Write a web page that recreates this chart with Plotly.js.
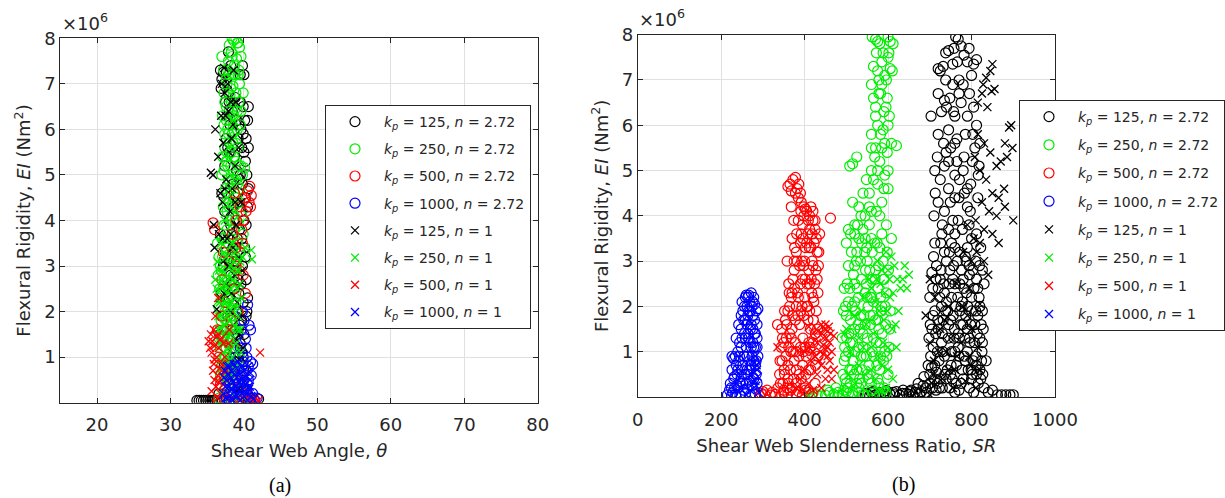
<!DOCTYPE html>
<html>
<head>
<meta charset="utf-8">
<script src="https://cdn.plot.ly/plotly-3.0.1.min.js"></script>
<style>
html,body{margin:0;padding:0;background:#fff;}
#chart{width:1225px;height:498px;}
</style>
</head>
<body>
<div id="chart"></div>
<script>
// ---------------- DATA (EI in units of 10^6 Nm^2) ----------------
const seriesNames = [
  "<i>k<sub>p</sub></i> = 125, <i>n</i> = 2.72",
  "<i>k<sub>p</sub></i> = 250, <i>n</i> = 2.72",
  "<i>k<sub>p</sub></i> = 500, <i>n</i> = 2.72",
  "<i>k<sub>p</sub></i> = 1000, <i>n</i> = 2.72",
  "<i>k<sub>p</sub></i> = 125, <i>n</i> = 1",
  "<i>k<sub>p</sub></i> = 250, <i>n</i> = 1",
  "<i>k<sub>p</sub></i> = 500, <i>n</i> = 1",
  "<i>k<sub>p</sub></i> = 1000, <i>n</i> = 1"
];
const seriesColors = ["#000000","#00ee00","#ff0000","#0000ff","#000000","#00ee00","#ff0000","#0000ff"];
const seriesSymbols = ["circle-open","circle-open","circle-open","circle-open","x-thin-open","x-thin-open","x-thin-open","x-thin-open"];

const xTicksA = [20,30,40,50,60,70,80];
const xTicksB = [0,200,400,600,800,1000];
const yTicks = [1,2,3,4,5,6,7,8];

// (a) Shear web angle theta vs EI
const thetaK125n272 = [[33.6,0.05],[33.9,0.05],[34.2,0.05],[34.5,0.05],[34.8,0.05],[35.1,0.05],[35.4,0.05],[35.7,0.05],[36.0,0.05],[36.3,0.05],
 [36.8,7.3],[37.0,7.1],[36.9,6.9],[37.2,7.25],[40.0,7.2],[39.8,7.4],[39.5,6.6],[39.9,6.5],[40.1,6.2],[40.5,6.2],
 [39.6,6.0],[39.2,5.8],[40.0,5.5],[40.2,5.3],[39.0,5.1],[38.5,4.8],[40.2,4.5],[39.6,4.2],[38.2,3.9],[40.0,4.0],
 [39.1,3.6],[37.5,3.3],[39.8,3.0],[40.3,2.7],[38.7,2.5],[36.9,2.4],[39.9,2.2],[37.8,1.9],[39.4,1.7],[36.7,1.5],
 [38.6,1.2],[39.9,1.0],[37.3,0.8],[38.9,0.5],[40.4,0.3],[36.6,0.2],[41.0,0.1],[42.0,0.08],
 [37.5,6.6],[38.1,6.1],[38.8,6.7],[38.0,5.5],[37.4,5.2],[39.4,4.9],[37.0,4.6],[38.6,4.3],[39.5,3.3],[38.2,2.8],
 [37.2,3.0],[36.8,3.7],[40.6,4.7],[40.3,3.9],
 [37.6,7.25],[38.2,7.4],[39.5,7.2],[37.9,6.8],[39.3,6.1],[40.3,5.8],[37.6,5.8],[39.8,4.8],[39.1,4.4],[38.0,4.0],
 [39.4,3.8],[37.4,4.2],[38.5,3.4],[39.6,2.6],[38.0,2.3],[39.0,2.0],[38.4,1.6],[39.5,1.3],[40.0,0.7],[38.1,0.4],
 [37.0,0.05],[38.0,0.05],[40.8,0.05],
 [37.9,7.7],[38.4,6.4],[39.7,5.6],[40.4,5.0],[40.6,6.5],[39.2,4.6],[40.1,3.4],[39.0,3.1],[40.5,2.3],[39.3,2.4],
 [40.0,1.5],[38.8,0.8],[39.7,0.4],[40.3,1.9],
 [37.3,7.0],[38.0,6.6],[39.0,6.2],[39.9,5.9],[37.8,5.6],[40.6,5.6],[39.5,5.0],[38.7,5.4],[40.5,4.3],[37.7,4.6],
 [39.7,3.6],[38.6,3.1],[40.2,3.2],[39.2,2.7],[40.4,2.0],[39.7,1.8]];
const thetaK250n272 = [[38.6,7.95],[38.9,8.0],[39.2,7.9],[39.4,7.8],[38.3,7.7],[37.9,7.5],[38.7,7.4],[39.3,7.3],[37.6,7.1],[38.2,6.9],
 [38.9,6.8],[37.4,6.6],[38.0,6.4],[38.6,6.3],[37.3,6.1],[37.9,5.9],[38.5,5.7],[39.2,5.6],[37.1,5.4],[37.8,5.2],
 [40.1,5.15],[39.8,5.0],[38.4,4.9],[37.5,4.7],[39.0,4.5],[38.0,4.3],[39.7,4.1],[37.3,3.9],[38.6,3.8],[39.9,3.7],
 [36.4,3.5],[37.6,3.4],[38.9,3.2],[36.8,3.0],[37.9,2.9],[36.5,2.8],[37.3,2.7],[38.4,2.5],[37.0,2.4],[37.8,2.3],
 [38.9,2.2],[37.4,2.0],[38.2,1.9],[36.9,1.8],[37.7,1.6],[38.5,1.5],[37.2,1.4],[38.0,1.3],[38.8,1.1],[37.5,1.0],
 [38.3,0.9],[37.9,0.7],[38.6,0.5],[37.4,0.3],[39.0,0.15],[38.2,0.05],[36.6,0.1],
 [37.2,7.3],[38.0,7.85],[38.4,7.6],[39.0,7.55],[37.7,7.0],[38.5,6.95],[39.4,7.0],[37.6,6.5],[38.3,6.6],[39.1,6.4],
 [37.1,6.3],[37.8,6.0],[38.7,5.95],[39.5,6.1],[37.4,5.6],[38.2,5.5],[38.9,5.3],[39.6,5.2],[37.0,5.0],[37.9,4.9],
 [38.7,4.6],[39.4,4.7],[37.2,4.3],[38.3,4.1],[39.2,3.95],[37.0,3.6],[37.9,3.5],[39.4,3.3],[36.6,3.2],[37.5,2.9],
 [38.6,2.8],[36.7,2.5],[37.6,2.5],[38.7,1.9],[36.6,2.1],[37.1,1.6],[38.1,1.6],[36.8,1.2],[37.6,1.2],[38.4,1.2],
 [37.1,0.7],[38.6,0.2],[37.6,0.05],[39.6,0.05],
 [36.9,2.9],[37.4,2.2],[38.0,2.6],[38.5,2.2],[37.2,1.9],[37.8,1.4],[38.4,1.7],[38.9,1.6],[37.0,1.4],[37.3,1.0],
 [38.0,0.9],[37.7,0.5],[38.2,0.6],[36.8,0.6],[37.3,3.6],[38.2,3.6],[38.8,4.0],[37.7,4.2],[39.1,4.8],[38.2,5.2],
 [37.6,5.3],[38.9,5.7],[38.1,6.2],[39.3,6.6],[38.0,7.2],[38.8,7.2],[39.6,7.6],[39.1,7.9],[38.4,8.0],[39.9,6.8],
 [37.0,7.6],[37.8,7.3],[38.5,7.2],[39.2,7.2],[37.3,6.8],[38.1,6.75],[38.8,6.45],[39.6,6.4],[37.6,6.2],[38.4,5.9],
 [39.1,6.0],[37.4,5.9],[38.0,5.7],[38.6,5.4],[39.3,5.2],[37.3,5.1],[38.1,4.7],[38.9,4.9],[37.6,4.4],[38.5,4.4],
 [39.4,4.4],[37.7,3.8],[38.4,3.3],[39.1,3.5],[37.1,3.2],[38.2,3.2]];
const thetaK500n272 = [[40.5,4.65],[40.8,4.75],[41.0,4.55],[40.7,4.4],[40.3,4.2],[35.8,3.95],[36.0,3.8],[39.5,4.3],[39.0,4.0],[38.4,3.7],
 [39.8,3.5],[37.2,3.3],[38.0,3.1],[39.4,2.9],[37.0,2.7],[38.6,2.5],[40.2,2.4],[37.5,2.2],[39.2,2.0],[36.4,1.6],
 [37.8,1.4],[38.8,1.2],[36.6,1.0],[37.9,0.8],[39.5,0.6],[36.8,0.4],[38.2,0.2],[40.0,0.1],[36.5,0.05],[38.9,3.4],[39.7,3.8],
 [40.1,4.5],[40.9,4.3],[38.7,4.6],[39.9,4.0],[38.9,3.0],[39.9,2.8],[36.9,1.9],[38.3,1.8],[39.6,1.6],[37.3,0.6],
 [38.6,0.5],[40.3,0.2],[41.4,0.05],[37.4,0.05]];
const thetaK1000n272 = [[40.5,2.15],[40.7,1.7],[40.9,1.6],[41.2,0.85],[39.8,2.0],[40.2,1.4],[39.5,1.2],[40.4,1.0],[39.0,0.9],[38.4,0.7],
 [39.7,0.6],[40.6,0.5],[38.1,0.4],[39.2,0.35],[40.0,0.3],[38.6,0.2],[39.5,0.15],[40.8,0.1],[38.0,0.05],[41.5,0.05],
 [41.8,0.1],[37.6,0.1],[39.9,0.45],[40.3,0.7],
 [39.2,1.5],[40.0,1.8],[39.8,1.1],[38.8,1.0],[40.9,0.9],[38.3,0.15],[39.0,0.55],[40.4,0.25],[41.2,0.2],[38.7,0.4],[41.0,0.6],[39.3,0.75],
 [39.6,1.6],[40.3,1.2],[39.3,1.0],[40.6,0.8],[38.8,0.7],[39.9,0.9]];
const thetaK125n1 = [[35.5,5.05],[35.8,5.0],[36.1,6.0],[35.9,3.9],[36.0,3.4],[36.3,2.05],[37.3,7.35],[37.8,7.0],[38.2,6.6],[37.5,6.3],
 [38.5,6.1],[37.2,5.7],[38.0,5.5],[38.8,5.2],[37.6,4.9],[38.4,4.7],[37.1,4.4],[38.1,4.2],[38.9,3.9],[37.7,3.6],
 [38.5,3.4],[39.3,3.2],[37.9,3.0],[38.7,2.8],[39.5,2.6],[38.3,2.4],[39.1,2.2],[39.8,1.9],[38.6,1.7],[39.4,1.5],
 [39.9,1.2],[36.8,4.6],[36.5,5.4],[36.9,6.3],
 [37.0,7.0],[38.6,7.3],[37.9,6.4],[38.9,6.6],[39.3,5.6],[39.6,4.4],[38.8,4.4],[36.6,3.7],[37.2,3.1],[39.8,2.9],
 [36.8,2.3],[37.6,2.6],[38.9,1.4],[39.6,1.0],[37.9,0.6],[39.3,0.3],
 [37.4,6.8],[38.3,5.8],[37.4,4.7],[38.2,3.7],[37.1,3.6],[37.3,2.4],[38.2,2.0],[39.0,1.0]];
const thetaK250n1 = [[41.0,3.35],[41.1,3.15],[36.1,2.7],[36.4,3.1],[37.0,2.9],[37.6,3.2],[38.2,3.0],[38.8,3.3],[39.5,3.1],[40.2,3.4],
 [37.3,2.6],[37.9,2.4],[38.5,2.7],[39.1,2.5],[39.7,2.3],[36.7,2.2],[37.4,2.0],[38.0,1.8],[38.6,2.1],[39.2,1.9],
 [36.9,1.6],[37.6,1.4],[38.3,1.5],[38.9,1.3],[39.6,1.1],[37.2,1.1],[37.9,0.9],[38.6,0.7],[37.4,0.5],[38.1,0.3],
 [39.0,0.1],[40.3,0.05],[37.7,4.5],[38.3,5.0],[37.9,5.6],[38.6,6.2],
 [36.9,3.5],[37.3,3.3],[38.5,3.5],[39.8,3.2],[36.3,2.5],[38.1,2.5],[39.4,2.6],[36.5,1.9],[37.7,1.9],[39.5,1.6],
 [36.4,1.3],[38.7,1.7],[37.9,1.2],[39.3,0.8],[36.7,0.9],[38.3,0.6],[39.6,0.4],[37.0,0.2],[37.4,4.0],[38.9,4.2],
 [38.0,4.7],[37.4,5.4],
 [37.0,2.5],[37.6,2.2],[38.3,2.2],[38.6,3.1],[39.0,2.9],[37.3,1.7],[37.9,1.6],[38.4,1.0],[37.5,0.8],[39.1,1.6],[36.6,2.9],
 [37.1,2.7],[37.8,2.7],[38.4,2.9],[39.3,2.9],[36.6,2.3],[37.2,2.2],[37.9,2.1],[38.5,1.9],[39.1,2.1],[36.8,1.9],
 [37.5,1.7],[38.2,1.3],[39.0,1.1],[37.0,1.3],[37.7,1.0],[38.4,0.8],[37.3,0.8],[36.5,1.6],[38.0,1.5]];
const thetaK500n1 = [[35.2,1.35],[35.5,1.5],[35.9,1.6],[36.3,1.45],[35.6,1.1],[36.0,0.95],[36.6,1.2],[35.8,0.7],[36.4,0.6],[37.0,0.85],
 [36.2,0.35],[36.8,0.2],[37.4,1.0],[37.9,1.3],[42.2,1.1],[41.5,0.1],[42.0,0.05],[36.1,1.9],[37.2,0.4],[38.0,1.6],[36.5,2.3],
 [35.4,1.2],[35.7,1.35],[36.0,1.25],[36.5,1.5],[36.8,1.4],[35.9,0.85],[36.3,1.0],[36.7,0.75],[37.2,1.3],[36.0,0.5],
 [36.6,0.45],[37.1,0.6],[35.6,0.25],[36.4,0.1],[37.6,0.7],[37.8,0.2],[38.5,0.1],[39.5,0.08],[40.5,0.1],[41.2,0.03]];
const thetaK1000n1 = [[37.2,0.2],[37.6,0.5],[38.0,0.8],[38.4,0.3],[38.8,0.6],[39.2,0.9],[39.6,0.4],[40.0,0.7],[40.4,0.2],[40.8,0.5],
 [37.4,0.7],[37.8,0.1],[38.2,0.55],[38.6,0.85],[39.0,0.15],[39.4,0.45],[39.8,0.1],[40.2,0.4],[40.6,0.8],[41.0,0.15],
 [38.5,0.05],[39.5,0.05],[37.9,0.35],[39.1,0.3],[40.5,0.05],
 [37.5,0.35],[38.3,0.7],[38.9,0.35],[39.3,0.6],[39.7,0.8],[40.1,0.25],[40.7,0.3],[37.7,0.8],[39.9,0.55],[38.1,0.15],[41.3,0.08],[40.9,0.65],
 [37.3,0.55],[37.9,0.6],[38.5,0.45],[39.0,0.75],[39.5,0.25],[40.3,0.6],[40.8,0.35],[38.2,0.3],[39.7,0.2],[40.0,0.45],[38.7,0.15],[37.5,0.1]];

// (b) Shear web slenderness ratio SR vs EI
const srK125n272 = [[545,0.05],[570,0.04],[595,0.06],[615,0.05],[635,0.08],[650,0.06],[665,0.1],[680,0.12],[690,0.2],[700,0.3],[560,0.1],[620,0.12],[655,0.15],
 [862,0.05],[872,0.05],[882,0.05],[892,0.05],[900,0.05],
 [762,7.95],[768,7.9],[775,7.75],[758,7.7],[745,7.65],[738,7.6],[732,7.3],[725,7.2],[720,7.25],[782,7.55],[790,7.4],[805,7.35],[812,7.45],[800,7.1],
 [770,7.0],[755,6.9],[748,6.6],[740,6.4],[735,6.55],[728,6.3],[703,6.2],[760,6.2],[775,6.5],[795,6.7],[812,6.0],[820,5.6],[808,5.5],[785,5.8],
 [765,5.7],[750,5.5],[733,5.6],[718,5.3],[712,5.0],[735,5.1],[760,4.9],[780,5.0],[798,4.7],[818,5.1],[815,4.4],[790,4.2],[770,4.4],[745,4.6],
 [720,4.3],[710,4.0],[730,3.8],[755,3.9],[778,3.7],[800,3.5],[822,3.3],[810,3.0],[785,3.1],[760,3.3],[735,3.2],[712,3.4],[705,2.75],[725,2.6],
 [748,2.8],[772,2.5],[795,2.7],[815,2.4],[820,2.0],[800,1.9],[778,2.1],[752,2.2],[728,2.0],[708,1.8],[698,1.3],[720,1.5],[745,1.6],[768,1.4],
 [790,1.5],[828,1.5],[825,1.0],[810,0.9],[785,0.8],[760,1.0],[735,0.9],[712,0.7],[700,0.5],[725,0.4],[750,0.5],[775,0.3],[800,0.4],[820,0.6],
 [830,0.2],[840,0.1],[850,0.15],[715,0.15],[760,0.1],[805,0.1],
 [548,0.08],[556,0.03],[564,0.12],[572,0.06],[580,0.1],[588,0.03],[596,0.14],[604,0.07],[612,0.1],[628,0.04],[636,0.15],[644,0.08],
 [652,0.12],[660,0.05],[668,0.18],[676,0.07],[684,0.25],[692,0.1],[672,0.3],[686,0.45],[696,0.7],
 [702,0.9],[708,1.1],[714,1.4],[718,0.3],[722,0.8],[728,1.2],[732,1.7],[736,0.5],[740,2.1],[744,1.3],[748,0.2],[752,1.0],[756,1.8],
 [760,2.5],[764,0.7],[768,1.1],[772,1.9],[776,2.8],[780,0.4],[784,1.3],[788,2.3],[792,0.6],[796,1.2],[800,2.2],[804,0.8],[808,1.6],
 [812,2.6],[816,0.3],[820,1.3],[824,0.8],[740,3.0],[760,3.6],[780,2.6],[720,2.4],[705,1.5],[730,0.2],[770,0.15],[795,0.2],[812,0.5],
 [700,2.2],[716,2.9],[752,3.4],[790,3.3],[735,4.1],[760,4.4],[790,4.6],[725,4.8],[765,5.2],[745,5.9],[790,6.2],[720,5.8],[770,6.7],
 [805,6.4],[755,7.35],[780,6.9],[830,2.5],[826,1.9],[835,0.8],
 [706,0.2],[712,1.9],[718,1.0],[724,2.2],[730,1.4],[738,1.9],[742,0.6],[746,2.5],[750,1.7],[754,0.4],[758,1.3],[762,2.0],[766,3.0],
 [770,0.9],[774,1.6],[778,0.6],[782,2.4],[786,1.8],[790,1.0],[794,2.9],[798,1.6],[802,0.5],[806,2.4],[810,1.9],[814,1.4],[818,2.2],
 [822,0.4],[826,1.2],[704,0.65],[716,0.55],[733,2.5],[757,2.9],[772,3.2],[794,3.8],[812,3.6],[726,3.4],[745,3.7],[768,3.9],[745,5.2],
 [802,5.2],[720,6.7],[760,5.6],[783,4.5],[738,7.0],[826,2.8],[816,4.9],
 [701,1.6],[707,2.4],[711,0.4],[715,2.6],[719,1.7],[723,0.2],[727,2.8],[731,1.0],[735,2.3],[739,0.4],[743,1.9],[747,3.2],[751,0.7],
 [755,2.6],[759,1.5],[763,0.3],[767,2.2],[771,1.3],[775,2.0],[779,1.6],[783,0.9],[787,3.0],[791,2.0],[795,1.3],[799,0.6],[803,2.8],
 [807,1.2],[811,0.7],[815,1.8],[819,2.9],[823,1.6],[827,0.5],[709,3.1],[729,3.6],[749,4.3],[771,4.8],[797,4.1],[739,5.4],[757,6.3],
 [782,5.3],[713,4.5],[803,5.8],[794,7.7],[766,7.4]];
const srK250n272 = [[412,0.03],[430,0.05],[450,0.04],[470,0.06],[490,0.05],[505,0.08],[540,0.06],[580,0.05],[595,0.1],
 [562,7.95],[570,7.9],[580,7.8],[605,7.85],[600,7.5],[572,7.6],[585,7.4],[565,7.3],[592,7.1],[578,7.0],[605,7.25],[560,6.9],[582,6.7],[598,6.6],
 [570,6.4],[590,6.3],[603,6.2],[575,6.0],[560,5.8],[588,5.9],[608,5.6],[620,5.55],[598,5.4],[570,5.5],[580,5.2],[525,5.3],[515,5.15],[508,5.1],
 [560,5.0],[592,4.9],[575,4.7],[600,4.6],[555,4.5],[585,4.3],[530,4.2],[545,4.0],[572,4.1],[596,3.8],[520,3.8],[510,3.6],[540,3.7],[560,3.5],
 [580,3.3],[608,3.5],[500,3.4],[525,3.2],[550,3.0],[570,2.8],[590,2.6],[505,2.9],[495,2.4],[520,2.5],[545,2.3],[565,2.1],[585,2.0],[498,2.0],
 [510,1.7],[535,1.8],[558,1.6],[578,1.5],[490,1.3],[515,1.2],[540,1.1],[562,1.0],[582,0.9],[495,0.8],[525,0.6],[550,0.5],[575,0.4],[500,0.3],
 [530,0.2],[560,0.15],[480,0.1],[515,0.1],
 [420,0.08],[440,0.02],[460,0.1],[480,0.03],[500,0.12],[515,0.04],[530,0.1],[550,0.03],[565,0.08],[590,0.03],[455,0.15],[475,0.2],
 [492,0.5],[496,1.1],[500,1.8],[504,0.2],[508,2.4],[512,1.4],[516,0.8],[520,2.1],[524,3.0],[528,1.6],[532,0.4],[536,2.6],[540,1.4],
 [544,3.2],[548,0.9],[552,2.0],[556,2.8],[560,0.3],[564,1.8],[568,3.4],[572,1.2],[576,2.4],[580,0.6],[584,1.9],[588,3.0],[592,1.0],
 [596,2.3],[600,0.5],[604,1.5],[508,0.6],[520,1.5],[535,0.9],[548,2.5],[562,2.6],[575,1.7],[590,0.2],[505,3.7],[530,3.5],[555,3.8],
 [515,4.3],[540,4.5],[565,4.8],[560,5.5],[585,5.5],[578,6.7],[596,7.0],[588,7.6],[612,7.8],[600,6.0],[565,6.6],
 [494,0.15],[498,0.9],[502,2.5],[506,1.4],[510,0.3],[514,2.0],[518,0.5],[522,1.9],[526,2.4],[530,1.1],[534,3.0],[538,0.6],[542,1.8],
 [546,2.8],[550,1.3],[554,0.7],[558,2.2],[562,3.2],[566,0.9],[570,1.7],[574,3.4],[578,0.3],[582,2.2],[586,1.4],[590,2.6],[594,1.6],
 [598,3.2],[602,1.1],[520,3.6],[545,3.5],[580,4.0],[590,4.6],[568,5.3],[555,4.2],[600,5.0],[582,5.8],[595,6.4],[575,7.2],[600,7.95],
 [610,7.2],[520,2.9],[535,0.3],[505,1.0],[550,2.2],
 [493,1.9],[497,0.4],[501,1.3],[505,2.1],[509,1.2],[513,0.6],[517,2.7],[521,1.0],[525,0.3],[529,2.2],[533,1.5],[537,3.4],[541,0.9],
 [545,1.6],[549,3.3],[553,0.4],[557,1.8],[561,2.2],[565,1.3],[569,2.6],[573,0.7],[577,2.9],[581,1.2],[585,3.6],[589,0.8],[593,2.0],
 [597,0.9],[601,2.8],[605,1.9],[535,4.0],[560,4.1],[575,5.0],[592,5.6],[570,6.2],[585,6.9],[602,7.6],[575,7.85],[512,3.2],[527,3.8],[548,4.8]];
const srK500n272 = [[292,0.03],[305,0.05],[318,0.04],[330,0.06],[345,0.05],[360,0.08],[380,0.06],[395,0.05],[410,0.1],[300,0.12],
 [365,4.7],[372,4.8],[378,4.85],[368,4.55],[360,4.65],[382,4.6],[385,4.4],[392,4.3],[398,4.2],[405,4.1],[412,4.0],[420,3.9],[462,3.95],
 [395,3.8],[408,3.6],[425,3.7],[390,3.4],[415,3.3],[428,3.5],[380,3.2],[400,3.0],[420,2.9],[375,2.8],[395,2.6],[412,2.5],[370,2.3],
 [385,2.2],[405,2.0],[420,2.2],[360,1.9],[378,1.7],[398,1.8],[335,1.6],[345,1.5],[350,1.2],[368,1.3],[390,1.1],[410,1.2],[355,0.9],
 [375,0.8],[395,0.7],[415,0.6],[340,0.5],[360,0.4],[380,0.3],[400,0.2],[425,0.3],[350,0.15],
 [296,0.08],[310,0.15],[322,0.1],[336,0.2],[350,0.1],[366,0.15],[386,0.12],[402,0.15],[418,0.08],
 [342,0.3],[346,0.8],[352,0.5],[356,1.3],[358,0.2],[362,1.1],[364,2.0],[366,0.6],[370,1.5],[372,2.6],[374,0.4],[378,1.2],[380,2.0],
 [382,3.0],[386,0.9],[388,1.6],[390,2.5],[392,3.6],[396,1.3],[400,2.2],[402,3.3],[404,0.9],[408,1.7],[410,2.8],[414,1.5],[418,3.0],
 [422,2.1],[426,1.4],[430,3.2],[432,0.9],[398,4.0],[415,4.2],[425,3.9],[430,2.6],[436,3.6],[370,3.5],[385,3.9],[405,3.4],[358,3.0],[390,4.5],
 [344,1.1],[348,0.3],[354,1.7],[360,0.7],[364,1.4],[368,2.2],[372,1.0],[376,2.4],[380,0.6],[384,1.8],[388,2.9],[392,0.4],[394,2.0],
 [398,2.9],[402,1.1],[406,2.5],[410,0.6],[412,1.9],[416,2.6],[420,1.2],[424,2.5],[428,1.9],[432,2.3],[434,3.2],[376,3.3],[396,3.5],
 [412,3.7],[420,4.1],[378,4.5],[402,4.15],[362,2.5],[352,1.9],[426,0.7],[370,0.2],
 [341,0.8],[347,1.3],[351,0.6],[357,1.6],[361,0.3],[363,2.3],[367,1.0],[371,1.8],[375,3.0],[379,1.0],[383,2.3],[387,0.5],[391,1.9],
 [393,3.0],[397,1.0],[401,2.6],[403,0.5],[407,2.0],[411,3.3],[413,1.1],[417,2.3],[421,1.7],[423,3.4],[427,2.8],[431,1.5],[433,2.9],
 [381,3.6],[391,4.1],[409,3.9],[368,4.2],[374,3.9],[386,4.7],[418,3.6]];
const srK1000n272 = [[215,0.05],[225,0.04],[235,0.06],[245,0.05],[258,0.07],[270,0.05],[282,0.06],[220,0.15],[240,0.2],[262,0.18],
 [250,2.1],[258,2.2],[266,2.25],[272,2.3],[278,2.2],[284,1.9],[286,1.3],[230,0.85],[262,2.0],[270,1.9],[254,1.7],[276,1.8],[248,1.5],
 [262,1.6],[280,1.4],[244,1.2],[258,1.3],[272,1.1],[240,1.0],[255,0.9],[268,0.8],[282,0.7],[236,0.7],[250,0.6],[264,0.5],[278,0.4],
 [232,0.45],[245,0.35],[260,0.3],[274,0.25],[286,0.3],
 [222,0.3],[226,0.6],[228,0.1],[232,0.2],[238,0.5],[242,0.8],[246,0.3],[248,1.1],[252,0.7],[254,0.15],[256,1.4],[260,1.1],[262,0.6],
 [264,1.8],[266,1.3],[268,0.35],[270,1.5],[272,0.7],[274,2.0],[276,1.2],[278,0.8],[280,1.7],[282,1.1],[284,0.5],[286,1.6],[288,0.9],
 [252,1.9],[260,2.25],[268,2.1],[280,2.05],[242,1.6],[236,1.3],[288,1.95],[226,0.9],
 [224,0.2],[230,0.4],[234,0.9],[238,0.25],[240,0.6],[244,0.9],[248,0.45],[250,1.3],[252,0.3],[256,0.5],[258,1.7],[262,0.9],[264,1.4],
 [266,1.9],[268,0.6],[270,1.2],[272,1.6],[274,0.9],[276,1.5],[278,1.1],[282,1.4],[284,0.8],[286,1.1],[256,2.0],[248,1.8],[264,2.2],[276,2.1]];
const srK125n1 = [[850,7.35],[845,7.2],[835,7.05],[828,6.9],[855,6.8],[848,6.75],[838,6.4],[825,6.7],[815,6.5],[895,6.0],[890,5.95],[880,5.6],
 [898,5.5],[885,5.3],[870,5.2],[860,5.1],[845,5.4],[830,5.6],[815,5.8],[808,5.3],[820,5.0],[835,4.8],[850,4.5],[865,4.4],[878,4.6],[880,4.2],
 [860,4.0],[842,4.1],[825,4.3],[810,3.9],[830,3.7],[850,3.6],[865,3.4],[900,3.9],[820,3.4],[805,3.5],[790,3.8],[780,3.2],[800,3.0],[820,2.05],
 [690,1.8],[700,1.2],[710,0.8],[725,1.5],[740,1.0],[760,0.6],[775,1.2],[795,0.9],[705,0.3],[730,0.4],[755,0.2],[785,0.35],[810,0.2],[820,0.6],
 [700,0.05],[745,2.0],[765,2.5],[790,1.8],
 [700,2.6],[712,2.2],[722,1.0],[735,1.7],[750,1.3],[765,0.9],[780,2.0],[800,1.5],[815,1.1],[710,0.5],[745,0.6],[800,0.7],[830,3.0],
 [840,2.7],[812,3.2],[795,2.4]];
const srK250n1 = [[495,1.4],[510,1.0],[520,1.8],[530,1.3],[540,2.2],[548,1.6],[555,2.6],[560,1.1],[570,2.1],[575,3.0],[582,2.5],[590,1.7],
 [595,3.2],[600,2.8],[605,2.2],[610,1.5],[615,2.9],[622,2.6],[630,2.4],[640,2.9],[650,2.7],[585,0.7],[570,0.4],[545,0.5],[520,0.3],[600,0.6],
 [580,0.15],[410,0.02],[600,1.1],[625,1.9],[595,0.2],
 [560,2.4],[565,1.4],[572,2.6],[578,1.9],[585,2.8],[592,2.3],[598,1.9],[603,2.6],[608,3.1],[612,2.3],[618,1.6],[588,1.2],[575,0.9],
 [560,0.6],[540,1.1],[530,0.7],[620,1.1],[612,0.4],[635,2.6],[645,2.4],[505,0.5],[500,1.5],[535,1.9]];
const srK500n1 = [[335,1.1],[410,1.55],[470,1.35],[440,1.6],[448,1.5],[455,1.45],[445,1.3],[460,1.2],[430,1.2],[450,1.05],[438,1.0],[425,0.9],
 [455,0.9],[415,0.8],[440,0.7],[460,0.8],[420,1.4],[400,0.6],[430,0.5],[450,0.4],[390,0.4],[410,0.3],[380,0.2],[440,0.2],[465,1.0],[470,0.6],
 [425,1.25],[432,1.45],[442,1.4],[450,1.6],[458,1.55],[462,1.4],[445,1.15],[452,1.3],[435,0.8],[445,0.95],[455,1.1],[420,1.0],[410,1.1],
 [400,1.0],[455,0.6],[465,0.4],[420,0.15],[395,0.15]];
const srK1000n1 = [[282,0.9],[285,0.7],[280,0.55],[288,0.45],[276,0.35],[284,0.25],[270,0.15],[290,0.1],[260,0.05],
 [278,0.75],[286,0.6],[274,0.5],[282,0.35]];

const panelA = [thetaK125n272, thetaK250n272, thetaK500n272, thetaK1000n272, thetaK125n1, thetaK250n1, thetaK500n1, thetaK1000n1];
const panelB = [srK125n272, srK250n272, srK500n272, srK1000n272, srK125n1, srK250n1, srK500n1, srK1000n1];

// ---------------- BUILD ----------------
const W = 1225, H = 498;
const px = v => v / W;
const py = v => 1 - v / H;
const txtColor = "#262626";
const gridColor = "#e0e0e0";
const FONT = "DejaVu Sans, Verdana, sans-serif";

function makeTraces(panel, xa, ya, legendId) {
  return panel.map((pts, i) => ({
    type: "scatter", mode: "markers",
    x: pts.map(p => p[0]), y: pts.map(p => p[1]),
    xaxis: xa, yaxis: ya,
    name: seriesNames[i],
    legend: legendId,
    legendgroup: legendId + "g" + i,
    marker: {
      symbol: seriesSymbols[i],
      size: seriesSymbols[i] === "circle-open" ? 10 : 8,
      color: seriesColors[i],
      line: {color: seriesColors[i], width: seriesSymbols[i] === "circle-open" ? 1.2 : 1.3}
    },
    hoverinfo: "x+y"
  }));
}

const traces = makeTraces(panelA, "x", "y", "legend").concat(makeTraces(panelB, "x2", "y2", "legend2"));

function axisBase() {
  return {
    showline: true, linecolor: txtColor, linewidth: 1, mirror: "ticks",
    ticks: "inside", ticklen: 5, tickcolor: txtColor,
    showgrid: true, gridcolor: gridColor, gridwidth: 1,
    zeroline: false,
    tickfont: {family: FONT, size: 18, color: txtColor},
    automargin: false
  };
}

const legendBase = {
  bgcolor: "#ffffff", bordercolor: txtColor, borderwidth: 1,
  font: {family: FONT, size: 14, color: txtColor},
  xanchor: "left", yanchor: "top", xref: "paper", yref: "paper",
  itemwidth: 48
};

const layout = {
  width: W, height: H,
  margin: {l: 0, r: 0, t: 0, b: 0},
  paper_bgcolor: "#ffffff", plot_bgcolor: "#ffffff",
  font: {family: FONT, color: txtColor},
  showlegend: true,
  xaxis: Object.assign(axisBase(), {
    domain: [px(60.3), px(537.7)], range: [15, 80], tickvals: xTicksA, anchor: "y", ticklabelstandoff: 6,
    title: {text: "Shear Web Angle, <i>θ</i>", font: {family: FONT, size: 18, color: txtColor}, standoff: 10}
  }),
  yaxis: Object.assign(axisBase(), {
    domain: [py(402.7), py(38.3)], range: [0, 8], tickvals: yTicks, anchor: "x",
    title: {text: "Flexural Rigidity, <i>EI</i> (Nm<sup>2</sup>)", font: {family: FONT, size: 18, color: txtColor}, standoff: 8}
  }),
  xaxis2: Object.assign(axisBase(), {
    domain: [px(637.7), px(1055)], range: [0, 1000], tickvals: xTicksB, anchor: "y2", ticklabelstandoff: 6,
    title: {text: "Shear Web Slenderness Ratio, <i>SR</i>", font: {family: FONT, size: 18, color: txtColor}, standoff: 10}
  }),
  yaxis2: Object.assign(axisBase(), {
    domain: [py(397), py(34.7)], range: [0, 8], tickvals: yTicks, anchor: "x2",
    title: {text: "Flexural Rigidity, <i>EI</i> (Nm<sup>2</sup>)", font: {family: FONT, size: 18, color: txtColor}, standoff: 8}
  }),
  legend: Object.assign({}, legendBase, {x: px(325), y: py(105), tracegroupgap: 6}),
  legend2: Object.assign({}, legendBase, {x: px(1019), y: py(100), tracegroupgap: 7}),
  annotations: [
    {text: "×10<sup>6</sup>", xref: "paper", yref: "paper", x: px(60), y: py(36), xanchor: "left", yanchor: "bottom",
     showarrow: false, font: {family: FONT, size: 18, color: txtColor}},
    {text: "×10<sup>6</sup>", xref: "paper", yref: "paper", x: px(637), y: py(32), xanchor: "left", yanchor: "bottom",
     showarrow: false, font: {family: FONT, size: 18, color: txtColor}},
    {text: "(a)", xref: "paper", yref: "paper", x: px(280), y: py(485), xanchor: "center", yanchor: "middle",
     showarrow: false, font: {family: "Liberation Serif, Times New Roman, serif", size: 20, color: "#000"}},
    {text: "(b)", xref: "paper", yref: "paper", x: px(903), y: py(484), xanchor: "center", yanchor: "middle",
     showarrow: false, font: {family: "Liberation Serif, Times New Roman, serif", size: 20, color: "#000"}}
  ]
};

Plotly.newPlot("chart", traces, layout, {displayModeBar: false, staticPlot: true});
</script>
</body>
</html>
